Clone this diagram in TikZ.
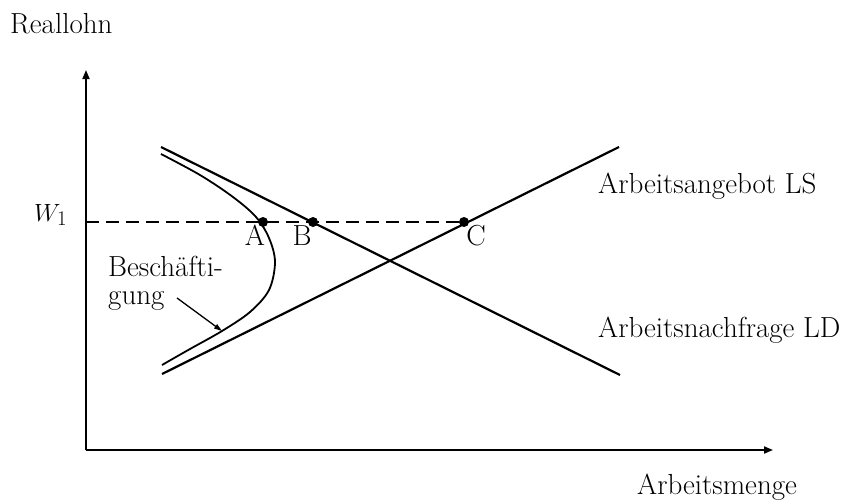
\documentclass[tikz,border=0pt]{standalone}
\usetikzlibrary{arrows.meta}
\begin{document}
\begin{tikzpicture}[x=1pt,y=-1pt,
  every node/.style={font=\fontsize{29}{30}\selectfont, inner sep=0pt},
  axis/.style={line width=1.8pt,-{Triangle[length=9pt,width=7pt]}},
  curveline/.style={line width=2.2pt},
  dot/.style={circle,fill=black,minimum size=10pt,inner sep=0pt},
  lbl/.style={anchor=base}]
\useasboundingbox (0,0) rectangle (841,501);
% axes
\coordinate (O) at (86,450);
\coordinate (ytop) at (86,70);
\coordinate (xend) at (773,450);
\draw[axis] (O) -- (ytop);
\draw[axis] (O) -- (xend);
\node[anchor=base west] (yl) at (10,33) {Reallohn};
\node[anchor=base west] (xl) at (637,494) {Arbeitsmenge};
% points
\node[dot] (A) at (263,222) {};
\node[dot] (B) at (313,222) {};
\node[dot] (C) at (464,222) {};
\coordinate (W) at (86,222);
\node[anchor=base west] (Wl) at (34,221) {$W_1$};
\draw[line width=1.8pt, dash pattern=on 13pt off 7pt] (W) -- (C);
\node[lbl] (Al) at (255,245) {A};
\node[lbl] (Bl) at (302,245) {B};
\node[lbl] (Cl) at (476,245) {C};
% supply and demand
\coordinate (LS1) at (162,374);
\coordinate (LS2) at (619,147);
\coordinate (LD1) at (161,147);
\coordinate (LD2) at (620,375);
\draw[curveline] (LS1) -- (LS2);
\draw[curveline] (LD1) -- (LD2);
\node[anchor=base west] (LSl) at (598,193) {Arbeitsangebot LS};
\node[anchor=base west] (LDl) at (598,337) {Arbeitsnachfrage LD};
% employment curve
\draw[line width=1.8pt] plot[smooth, tension=0.55] coordinates {(161,154) (200,175) (233,197) (256,217) (269,238) (275,262) (269,290) (250,312) (222,331) (190,349) (162,365)};
\coordinate (tip) at (222,331);
\node[anchor=base west] (Bs) at (108,276) {Beschäfti-};
\node[anchor=base west] (Bg) at (108,304) {gung};
\coordinate (tail) at (177,298);
\draw[line width=1.3pt,-{Triangle[length=8pt,width=5pt]}] (tail) -- (tip);
\end{tikzpicture}
\end{document}
